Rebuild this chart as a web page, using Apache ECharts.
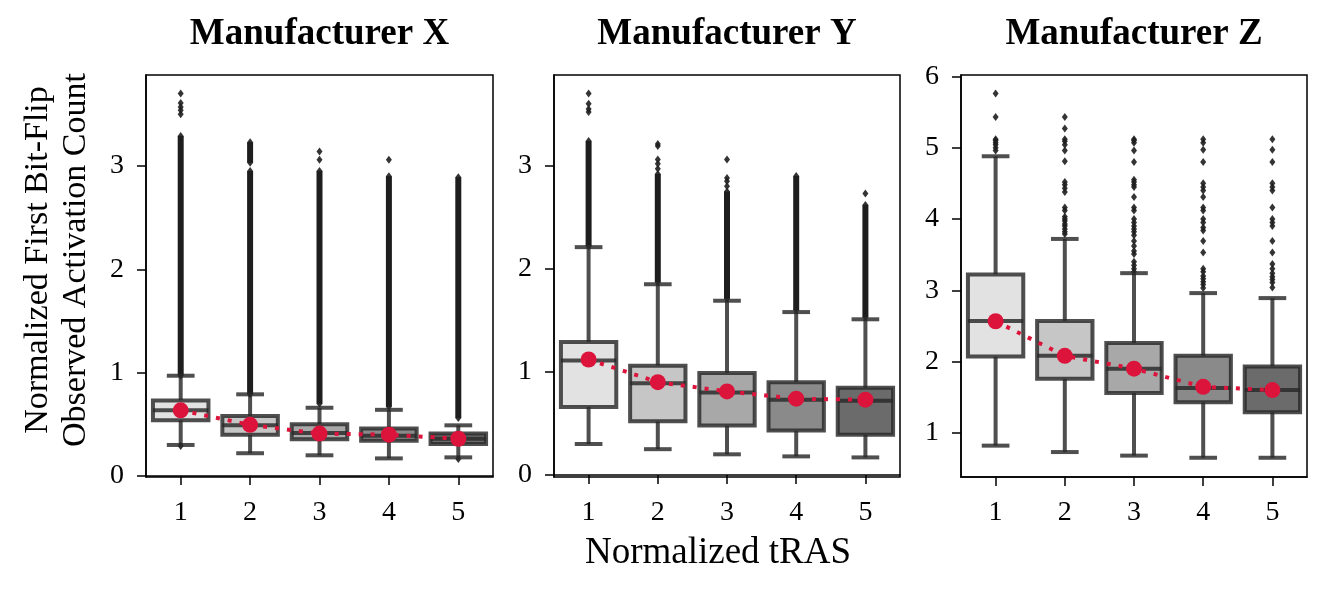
<!DOCTYPE html>
<html>
<head>
<meta charset="utf-8">
<script src="https://cdn.jsdelivr.net/npm/echarts@6/dist/echarts.min.js"></script>
<style>
  html, body { margin: 0; padding: 0; background: #fff; }
  #chart { width: 1330px; height: 606px; }
</style>
</head>
<body>
<div id="chart"></div>
<script>
  // normalized tRAS categories
  var tras = ['1', '2', '3', '4', '5'];
  var titles = ['Manufacturer X', 'Manufacturer Y', 'Manufacturer Z'];

  // box stats: [lower whisker, q1, median, q3, upper whisker]
  var boxesX = [[0.30, 0.54, 0.635, 0.73, 0.97], [0.22, 0.40, 0.49, 0.58, 0.79], [0.20, 0.355, 0.415, 0.50, 0.66], [0.17, 0.34, 0.39, 0.46, 0.64], [0.18, 0.31, 0.36, 0.41, 0.49]];
  var boxesY = [[0.30, 0.66, 1.11, 1.29, 2.21], [0.25, 0.52, 0.89, 1.06, 1.85], [0.20, 0.48, 0.80, 0.99, 1.69], [0.18, 0.43, 0.73, 0.90, 1.58], [0.17, 0.39, 0.72, 0.845, 1.51]];
  var boxesZ = [[0.82, 2.07, 2.57, 3.22, 4.88], [0.73, 1.76, 2.08, 2.57, 3.72], [0.68, 1.56, 1.90, 2.26, 3.24], [0.65, 1.43, 1.63, 2.08, 2.96], [0.65, 1.29, 1.60, 1.93, 2.89]];

  // means (red dots)
  var meansX = [0.635, 0.495, 0.41, 0.40, 0.36];
  var meansY = [1.12, 0.90, 0.81, 0.74, 0.73];
  var meansZ = [2.565, 2.08, 1.90, 1.645, 1.60];

  // ranges where outliers are so dense they form a solid column
  var denseX = [[[0.97, 3.29]], [[0.79, 2.95], [3.03, 3.23]], [[0.70, 2.95]], [[0.67, 2.90]], [[0.56, 2.89]]];
  var denseY = [[[2.22, 3.24]], [[1.87, 2.92]], [[1.71, 2.75]], [[1.60, 2.90]], [[1.53, 2.62]]];
  var denseZ = [[], [], [], [], []];

  // individual outliers
  var fliersX = [[3.70, 3.61, 3.57, 3.54, 3.50, 0.29], [], [3.14, 3.06], [3.06], [0.165]];
  var fliersY = [[3.70, 3.60, 3.55, 3.52], [3.21, 3.19, 3.06, 3.02, 2.97], [3.06, 2.88, 2.85, 2.80], [], [2.73]];
  var fliersZ = [
    [5.76, 5.43, 5.12, 5.10, 5.07, 5.04, 5.00, 4.96],
    [5.43, 5.27, 5.12, 5.09, 5.04, 4.96, 4.81, 4.52, 4.48, 4.43, 4.38, 4.16, 4.12, 4.03, 4.00, 3.97, 3.93, 3.90, 3.86, 3.82, 3.79],
    [5.12, 5.10, 5.07, 4.96, 4.80, 4.55, 4.52, 4.48, 4.45, 4.31, 4.16, 4.12, 4.00, 3.95, 3.90, 3.86, 3.82, 3.77, 3.69, 3.62, 3.55, 3.51, 3.40, 3.35, 3.30, 3.26],
    [5.12, 5.07, 4.97, 4.80, 4.50, 4.45, 4.40, 4.31, 4.16, 4.12, 4.00, 3.95, 3.88, 3.84, 3.69, 3.53, 3.30, 3.26, 3.20, 3.16, 3.12, 3.08, 3.03],
    [5.12, 4.97, 4.80, 4.50, 4.45, 4.40, 4.16, 4.00, 3.95, 3.90, 3.69, 3.53, 3.37, 3.30, 3.24, 3.19, 3.15, 3.11, 3.04]
  ];

  // y axis ranges and ticks per panel
  var yMins = [-0.01, -0.02, 0.38];
  var yMaxs = [3.88, 3.88, 6.02];
  var yTicks = [[0, 1, 2, 3], [0, 1, 2, 3], [1, 2, 3, 4, 5, 6]];

  var fontFam = "'Liberation Serif', 'Times New Roman', 'DejaVu Serif', serif";
  var boxFill = ['#e2e2e2', '#c6c6c6', '#a8a8a8', '#8a8a8a', '#6b6b6b'];
  var edge = 'rgba(40,40,40,0.82)';
  var red = '#dc143c';
  var grids = [{left: 146, top: 75, width: 347, height: 402}, {left: 554, top: 75, width: 346, height: 402}, {left: 961, top: 75, width: 346, height: 402}];

  function boxRender(params, api) {
    var i = api.value(0);
    var lo = api.coord([i, api.value(1)]);
    var q1 = api.coord([i, api.value(2)]);
    var md = api.coord([i, api.value(3)]);
    var q3 = api.coord([i, api.value(4)]);
    var hi = api.coord([i, api.value(5)]);
    var band = api.size([1, 0])[0];
    var bw = band * 0.8, cw = band * 0.4, cx = lo[0];
    var st = {stroke: edge, lineWidth: 4};
    return {
      type: 'group',
      children: [
        {type: 'line', shape: {x1: cx, y1: q1[1], x2: cx, y2: lo[1]}, style: st},
        {type: 'line', shape: {x1: cx, y1: q3[1], x2: cx, y2: hi[1]}, style: st},
        {type: 'line', shape: {x1: cx - cw / 2, y1: lo[1], x2: cx + cw / 2, y2: lo[1]}, style: st},
        {type: 'line', shape: {x1: cx - cw / 2, y1: hi[1], x2: cx + cw / 2, y2: hi[1]}, style: st},
        {type: 'rect', shape: {x: cx - bw / 2, y: q3[1], width: bw, height: q1[1] - q3[1]},
          style: {fill: boxFill[i], stroke: edge, lineWidth: 4}},
        {type: 'line', shape: {x1: cx - bw / 2, y1: md[1], x2: cx + bw / 2, y2: md[1]}, style: st}
      ]
    };
  }

  function denseRender(params, api) {
    var i = api.value(0);
    var a = api.coord([i, api.value(1)]);
    var b = api.coord([i, api.value(2)]);
    return {
      type: 'rect',
      shape: {x: a[0] - 3, y: b[1], width: 6, height: a[1] - b[1]},
      style: {fill: '#1e1e1e'}
    };
  }

  var panels = [
    {boxes: boxesX, means: meansX, dense: denseX, fliers: fliersX},
    {boxes: boxesY, means: meansY, dense: denseY, fliers: fliersY},
    {boxes: boxesZ, means: meansZ, dense: denseZ, fliers: fliersZ}
  ];

  var xAxes = [], yAxes = [], series = [];
  panels.forEach(function (p, k) {
    xAxes.push({
      type: 'category', gridIndex: k, data: tras, boundaryGap: true,
      axisLine: {show: true, lineStyle: {color: '#000', width: 1.5}},
      axisTick: {show: true, alignWithLabel: true, length: 9, lineStyle: {color: '#000', width: 1.5}},
      axisLabel: {color: '#000', fontSize: 28, fontFamily: fontFam, margin: 22},
      splitLine: {show: false}
    });
    yAxes.push({
      type: 'value', gridIndex: k, min: yMins[k], max: yMaxs[k],
      axisLine: {show: true, lineStyle: {color: '#000', width: 1.5}},
      axisTick: {show: true, length: 9, customValues: yTicks[k], lineStyle: {color: '#000', width: 1.5}},
      axisLabel: {color: '#000', fontSize: 28, fontFamily: fontFam, margin: 22, customValues: yTicks[k]},
      splitLine: {show: false}
    });

    var denseData = [], flierData = [], boxData = [];
    p.dense.forEach(function (ranges, i) {
      ranges.forEach(function (r) { denseData.push([i, r[0], r[1]]); flierData.push([i, r[0]], [i, r[1]]); });
    });
    p.fliers.forEach(function (vals, i) {
      vals.forEach(function (v) { flierData.push([i, v]); });
    });
    p.boxes.forEach(function (b, i) { boxData.push([i].concat(b)); });

    series.push({
      type: 'custom', xAxisIndex: k, yAxisIndex: k, renderItem: denseRender,
      data: denseData, z: 1, silent: true
    });
    series.push({
      type: 'scatter', xAxisIndex: k, yAxisIndex: k, data: flierData,
      symbol: 'diamond', symbolSize: [6, 8], itemStyle: {color: '#1e1e1e', opacity: 0.9}, z: 2, silent: true
    });
    series.push({
      type: 'custom', xAxisIndex: k, yAxisIndex: k, renderItem: boxRender,
      encode: {x: 0, y: [1, 2, 3, 4, 5]}, data: boxData, z: 3, silent: true
    });
    series.push({
      type: 'line', xAxisIndex: k, yAxisIndex: k, data: p.means,
      symbol: 'circle', symbolSize: 16, showSymbol: true,
      itemStyle: {color: red}, lineStyle: {color: red, width: 4, type: [4, 8]}, z: 5, silent: true
    });
  });

  var chart = echarts.init(document.getElementById('chart'));
  chart.setOption({
    animation: false,
    backgroundColor: '#fff',
    grid: grids.map(function (g) {
      return {left: g.left, top: g.top, width: g.width, height: g.height, show: true, borderColor: '#000', borderWidth: 1.5, backgroundColor: 'transparent'};
    }),
    xAxis: xAxes,
    yAxis: yAxes,
    series: series,
    graphic: [
      {type: 'text', x: grids[0].left + grids[0].width / 2, y: 34, style: {text: titles[0], font: 'bold 37px ' + fontFam, fill: '#000', align: 'center', verticalAlign: 'middle', textAlign: 'center', textVerticalAlign: 'middle'}},
      {type: 'text', x: grids[1].left + grids[1].width / 2, y: 34, style: {text: titles[1], font: 'bold 37px ' + fontFam, fill: '#000', align: 'center', verticalAlign: 'middle', textAlign: 'center', textVerticalAlign: 'middle'}},
      {type: 'text', x: grids[2].left + grids[2].width / 2, y: 34, style: {text: titles[2], font: 'bold 37px ' + fontFam, fill: '#000', align: 'center', verticalAlign: 'middle', textAlign: 'center', textVerticalAlign: 'middle'}},
      {type: 'text', x: 718, y: 553, style: {text: 'Normalized tRAS', font: '37px ' + fontFam, fill: '#000', align: 'center', verticalAlign: 'middle', textAlign: 'center', textVerticalAlign: 'middle'}},
      {type: 'text', x: 57, y: 260, rotation: Math.PI / 2,
        style: {text: 'Normalized First Bit-Flip\nObserved Activation Count', font: '34px ' + fontFam, lineHeight: 38, fill: '#000', align: 'center', verticalAlign: 'middle', textAlign: 'center', textVerticalAlign: 'middle'}}
    ]
  });
</script>
</body>
</html>
